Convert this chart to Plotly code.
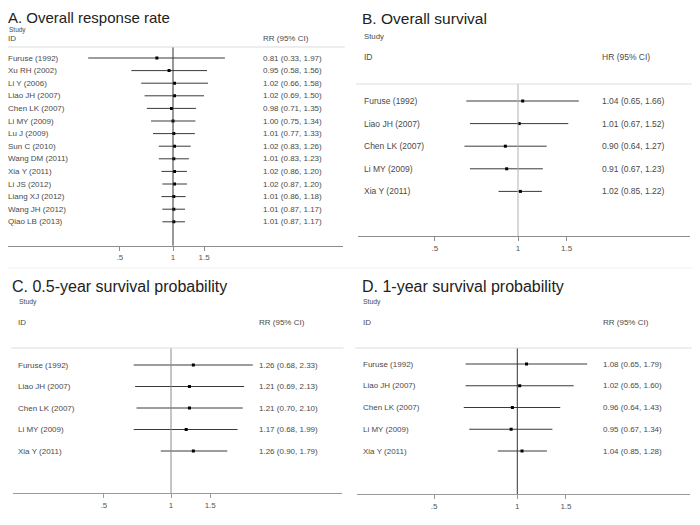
import math
import plotly.graph_objects as go

W, H = 700, 525
OFF = 8  # page body margin of the html page
FONT = "Liberation Sans, Arial, sans-serif"

# ---------------- data ----------------
a_title = "A. Overall response rate"
a_studies = ["Furuse (1992)", "Xu RH (2002)", "Li Y (2006)", "Liao JH (2007)", "Chen LK (2007)",
             "Li MY (2009)", "Lu J (2009)", "Sun C (2010)", "Wang DM (2011)", "Xia Y (2011)",
             "Li JS (2012)", "Liang XJ (2012)", "Wang JH (2012)", "Qiao LB (2013)"]
a_est = [0.81, 0.95, 1.02, 1.02, 0.98, 1.00, 1.01, 1.02, 1.01, 1.02, 1.02, 1.01, 1.01, 1.01]
a_lo = [0.33, 0.58, 0.66, 0.69, 0.71, 0.75, 0.77, 0.83, 0.83, 0.86, 0.87, 0.86, 0.87, 0.87]
a_hi = [1.97, 1.56, 1.58, 1.50, 1.35, 1.34, 1.33, 1.26, 1.23, 1.20, 1.20, 1.18, 1.17, 1.17]
a_measure = "RR (95% CI)"

b_title = "B. Overall survival"
b_studies = ["Furuse (1992)", "Liao JH (2007)", "Chen LK (2007)", "Li MY (2009)", "Xia Y (2011)"]
b_est = [1.04, 1.01, 0.90, 0.91, 1.02]
b_lo = [0.65, 0.67, 0.64, 0.67, 0.85]
b_hi = [1.66, 1.52, 1.27, 1.23, 1.22]
b_measure = "HR (95% CI)"

c_title = "C. 0.5-year survival probability"
c_studies = ["Furuse (1992)", "Liao JH (2007)", "Chen LK (2007)", "Li MY (2009)", "Xia Y (2011)"]
c_est = [1.26, 1.21, 1.21, 1.17, 1.26]
c_lo = [0.68, 0.69, 0.70, 0.68, 0.90]
c_hi = [2.33, 2.13, 2.10, 1.99, 1.79]
c_measure = "RR (95% CI)"

d_title = "D. 1-year survival probability"
d_studies = ["Furuse (1992)", "Liao JH (2007)", "Chen LK (2007)", "Li MY (2009)", "Xia Y (2011)"]
d_est = [1.08, 1.02, 0.96, 0.95, 1.04]
d_lo = [0.65, 0.65, 0.64, 0.67, 0.85]
d_hi = [1.79, 1.60, 1.43, 1.34, 1.28]
d_measure = "RR (95% CI)"

tick_vals = [0.5, 1, 1.5]
tick_text = [".5", "1", "1.5"]

# ---------------- layout geometry (pixels in the reference) ----------------
panels = [
    dict(title=a_title, studies=a_studies, est=a_est, lo=a_lo, hi=a_hi, measure=a_measure,
         ax0=8, ax1=343, null_px=173, px_ln=76.5, sep=47, axis_y=245.7, row0=58, step=12.6,
         title_xy=(8, 17.5), title_size=15, study_xy=(9, 30), study_size=6.5, id_xy=(8, 39),
         label_x=8, text_x=263, fsize=8, null_color="#333333", axis_color="#8c8c8c"),
    dict(title=b_title, studies=b_studies, est=b_est, lo=b_lo, hi=b_hi, measure=b_measure,
         ax0=358, ax1=690, null_px=518, px_ln=120, sep=84, axis_y=236, row0=101, step=22.6,
         title_xy=(362, 18), title_size=15.5, study_xy=(364, 36), study_size=7.8, id_xy=(364, 57),
         label_x=364, text_x=602, fsize=8.5, null_color="#b0b0b0", axis_color="#8c8c8c"),
    dict(title=c_title, studies=c_studies, est=c_est, lo=c_lo, hi=c_hi, measure=c_measure,
         ax0=13, ax1=342, null_px=171, px_ln=96.7, sep=348, axis_y=493, row0=365, step=21.5,
         title_xy=(12, 286), title_size=16, study_xy=(19, 301.5), study_size=6.8, id_xy=(18, 322),
         label_x=18, text_x=259, fsize=8, null_color="#8a8a8a", axis_color="#9a9a9a"),
    dict(title=d_title, studies=d_studies, est=d_est, lo=d_lo, hi=d_hi, measure=d_measure,
         ax0=357, ax1=690, null_px=517.3, px_ln=120, sep=348, axis_y=494, row0=364, step=21.75,
         title_xy=(362, 286), title_size=16, study_xy=(363, 301.5), study_size=6.8, id_xy=(363, 322),
         label_x=363, text_x=603, fsize=8, null_color="#333333", axis_color="#9a9a9a"),
]

def clamp(v):
    return min(1.0, max(0.0, v))

def px(x):
    return clamp((x - OFF) / W)

def py(y):
    return clamp(1 - (y - OFF) / H)

fig = go.Figure()
annotations = []
shapes = []
text_color = "#4a4a4a"

def note(text, x, y, yref, size, color=text_color):
    return dict(text=text, xref="paper", yref=yref, x=x, y=y, xanchor="left",
                yanchor="middle", showarrow=False, borderpad=0, borderwidth=0,
                font=dict(family=FONT, size=size, color=color))

for k, p in enumerate(panels):
    sfx = "" if k == 0 else str(k + 1)
    xa, ya = "x" + sfx, "y" + sfx
    n = len(p["studies"])
    rows = list(range(n))

    # CI lines
    lx, ly = [], []
    for i in rows:
        lx += [p["lo"][i], p["hi"][i], None]
        ly += [i, i, None]
    fig.add_trace(go.Scatter(x=lx, y=ly, mode="lines", xaxis=xa, yaxis=ya,
                             line=dict(color="#3a3a3a", width=1), hoverinfo="skip",
                             showlegend=False))
    # point estimates
    fig.add_trace(go.Scatter(x=p["est"], y=rows, mode="markers", xaxis=xa, yaxis=ya,
                             marker=dict(symbol="square", size=3, color="black",
                                         line=dict(width=0)),
                             showlegend=False))

    dec = p["px_ln"] * math.log(10)
    xr = [(p["ax0"] - p["null_px"]) / dec, (p["ax1"] - p["null_px"]) / dec]
    top = -(p["row0"] - p["sep"]) / p["step"]
    bot = (p["axis_y"] - p["row0"]) / p["step"]

    fig.layout["xaxis" + sfx] = dict(
        type="log", range=xr, domain=[px(p["ax0"]), px(p["ax1"])], anchor=ya,
        tickvals=tick_vals, ticktext=tick_text, ticks="outside", ticklen=4,
        tickcolor=p["axis_color"], showline=True, mirror=False, linecolor=p["axis_color"],
        linewidth=1, showgrid=False, zeroline=False,
        tickfont=dict(family=FONT, size=8, color="#555555"))
    fig.layout["yaxis" + sfx] = dict(
        range=[bot, top], domain=[py(p["axis_y"]), py(p["sep"])], anchor=xa,
        visible=False, showline=False, showgrid=False, zeroline=False)

    # null line
    shapes.append(dict(type="line", xref=xa, yref=ya + " domain", x0=1, x1=1, y0=0, y1=1,
                       line=dict(color=p["null_color"], width=1)))
    # header separator
    shapes.append(dict(type="line", xref=xa + " domain", yref=ya + " domain", x0=-0.005, x1=1.005,
                       y0=1, y1=1, line=dict(color="#dcdcdc", width=1)))

    # titles and headers
    annotations.append(note(p["title"], px(p["title_xy"][0]), py(p["title_xy"][1]), "paper",
                            p["title_size"], "#222222"))
    annotations.append(note("Study", px(p["study_xy"][0]), py(p["study_xy"][1]), "paper",
                            p["study_size"]))
    annotations.append(note("ID", px(p["id_xy"][0]), py(p["id_xy"][1]), "paper", p["fsize"]))
    annotations.append(note(p["measure"], px(p["text_x"]), py(p["id_xy"][1]), "paper", p["fsize"]))
    for i in rows:
        annotations.append(note(p["studies"][i], px(p["label_x"]), i, ya, p["fsize"]))
        s = f"{p['est'][i]:.2f} ({p['lo'][i]:.2f}, {p['hi'][i]:.2f})"
        annotations.append(note(s, px(p["text_x"]), i, ya, p["fsize"]))

# faint divider between the upper and lower panels
shapes.append(dict(type="line", xref="paper", yref="paper", x0=0, x1=1, y0=py(268), y1=py(268),
                   line=dict(color="#f0f0f0", width=1)))

fig.update_layout(template="none", width=W, height=H, margin=dict(l=0, r=0, t=0, b=0),
                  paper_bgcolor="white", plot_bgcolor="white",
                  annotations=annotations, shapes=shapes, showlegend=False,
                  font=dict(family=FONT))

fig.write_html("out.html")
